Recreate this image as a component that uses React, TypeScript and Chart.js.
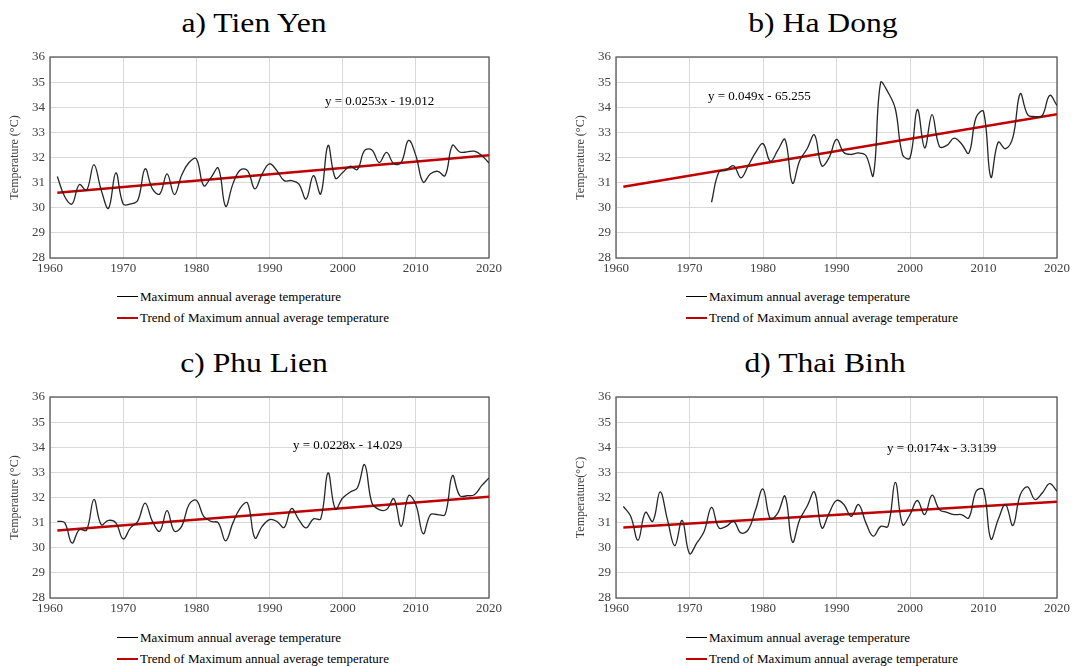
import React, { useEffect, useRef } from 'react';
import { Chart, registerables } from 'chart.js';

Chart.register(...registerables);

const years = [
  1961, 1962, 1963, 1964, 1965, 1966, 1967, 1968, 1969, 1970,
  1971, 1972, 1973, 1974, 1975, 1976, 1977, 1978, 1979, 1980,
  1981, 1982, 1983, 1984, 1985, 1986, 1987, 1988, 1989, 1990,
  1991, 1992, 1993, 1994, 1995, 1996, 1997, 1998, 1999, 2000,
  2001, 2002, 2003, 2004, 2005, 2006, 2007, 2008, 2009, 2010,
  2011, 2012, 2013, 2014, 2015, 2016, 2017, 2018, 2019, 2020,
];

const xTicks = [1960, 1970, 1980, 1990, 2000, 2010, 2020];
const yTicks = [28, 29, 30, 31, 32, 33, 34, 35, 36];

const tienYen = [
  31.24, 30.45, 30.15, 30.92, 30.7, 31.72, 30.7, 29.98, 31.39, 30.15,
  30.15, 30.3, 31.55, 30.75, 30.55, 31.35, 30.52, 31.3, 31.8, 31.95,
  30.88, 31.2, 31.58, 30.06, 30.95, 31.5, 31.48, 30.75, 31.35, 31.75,
  31.48, 31.08, 31.08, 30.95, 30.35, 31.28, 30.55, 32.48, 31.18, 31.4,
  31.65, 31.52, 32.28, 32.3, 31.8, 32.2, 31.75, 31.8, 32.68, 32.08,
  31.02, 31.35, 31.45, 31.28, 32.48, 32.22, 32.22, 32.25, 32.08, 31.78,
];

const haDong = [
  null, null, null, null, null, null, null, null, null, null,
  null, null, 30.22, 31.42, 31.5, 31.67, 31.19, 31.68, 32.2, 32.55,
  31.85, 32.28, 32.72, 30.98, 31.88, 32.35, 32.9, 31.67, 32.0, 32.72,
  32.2, 32.12, 32.18, 32.08, 31.28, 34.98, 34.6, 33.94, 32.1, 31.98,
  33.91, 32.38, 33.71, 32.44, 32.48, 32.77, 32.55, 32.17, 33.6, 33.83,
  31.22, 32.61, 32.35, 32.8, 34.54, 33.71, 33.63, 33.67, 34.47, 34.07,
];

const phuLien = [
  31.05, 31.0, 30.19, 30.72, 30.7, 31.92, 30.92, 31.09, 30.99, 30.35,
  30.79, 31.05, 31.78, 31.05, 30.66, 31.48, 30.66, 30.85, 31.72, 31.89,
  31.25, 31.05, 30.99, 30.27, 30.99, 31.58, 31.78, 30.39, 30.85, 31.12,
  31.05, 30.81, 31.56, 31.12, 30.79, 31.15, 31.15, 32.98, 31.54, 31.98,
  32.21, 32.38, 33.31, 31.78, 31.52, 31.52, 31.95, 30.85, 32.07, 31.72,
  30.56, 31.32, 31.32, 31.32, 32.87, 32.07, 32.07, 32.11, 32.47, 32.78,
];

const thaiBinh = [
  31.65, 31.25, 30.3, 31.41, 31.05, 32.22, 31.12, 30.08, 31.09, 29.77,
  30.19, 30.66, 31.61, 30.79, 30.85, 31.05, 30.59, 30.72, 31.52, 32.34,
  31.15, 31.38, 32.05, 30.23, 31.12, 31.65, 32.22, 30.79, 31.38, 31.88,
  31.72, 31.25, 31.72, 30.99, 30.46, 30.85, 30.85, 32.6, 30.92, 31.32,
  31.88, 31.32, 32.09, 31.52, 31.41, 31.32, 31.32, 31.19, 32.25, 32.31,
  30.35, 31.12, 31.72, 30.89, 32.11, 32.42, 31.92, 32.18, 32.55, 32.25,
];

const trendSlopes = [0.0253, 0.049, 0.0228, 0.0174];
const trendIntercepts = [-19.012, -65.255, -14.029, -3.3139];
const equations = [
  'y = 0.0253x - 19.012',
  'y = 0.049x - 65.255',
  'y = 0.0228x - 14.029',
  'y = 0.0174x - 3.3139',
];
const titles = ['a) Tien Yen', 'b) Ha Dong', 'c) Phu Lien', 'd) Thai Binh'];
const yTitles = ['Temperature (°C)', 'Temperature (°C)', 'Temperature (°C)', 'Temperature(°C)'];
const seriesList = [tienYen, haDong, phuLien, thaiBinh];
const legendLabels = [
  'Maximum annual average temperature',
  'Trend of Maximum annual average temperature',
];

const FONT = '"Liberation Serif", "Times New Roman", serif';

const CANVAS_W = 520;
const CANVAS_H = 230;

// layout (pixels) for each panel
const layouts = [
  { left: 0, top: 50, padRight: 31, titleX: 254, titleTop: 5, legendX: 117, legendY: 286, eqX: 325, eqY: 102 },
  { left: 566, top: 50, padRight: 29, titleX: 823, titleTop: 5, legendX: 686, legendY: 286, eqX: 708, eqY: 97 },
  { left: 0, top: 390, padRight: 31, titleX: 254, titleTop: 345, legendX: 117, legendY: 627, eqX: 293, eqY: 446 },
  { left: 566, top: 390, padRight: 29, titleX: 825, titleTop: 345, legendX: 686, legendY: 627, eqX: 887, eqY: 449 },
];

function Panel({ idx }: { idx: number }) {
  const ref = useRef<HTMLCanvasElement | null>(null);
  const lay = layouts[idx];

  useEffect(() => {
    if (!ref.current) return;
    const series = seriesList[idx];
    const slope = trendSlopes[idx];
    const icpt = trendIntercepts[idx];
    const firstYear = years[0];
    const lastYear = years[years.length - 1];
    const points = years.map((yr, i) => ({ x: yr, y: series[i] }));
    const trend = [
      { x: firstYear, y: slope * firstYear + icpt },
      { x: lastYear, y: slope * lastYear + icpt },
    ];

    const framePlugin = {
      id: 'frame',
      beforeDatasetsDraw(chart: any) {
        const { ctx, chartArea } = chart;
        ctx.save();
        ctx.strokeStyle = '#595959';
        ctx.lineWidth = 1.3;
        ctx.strokeRect(chartArea.left, chartArea.top, chartArea.right - chartArea.left, chartArea.bottom - chartArea.top);
        ctx.restore();
      },
    };

    const eqPlugin = {
      id: 'eq',
      afterDatasetsDraw(chart: any) {
        const { ctx } = chart;
        ctx.save();
        ctx.font = `13px ${FONT}`;
        ctx.fillStyle = '#000';
        ctx.textBaseline = 'middle';
        ctx.textAlign = 'left';
        ctx.fillText(equations[idx], lay.eqX - lay.left, lay.eqY - lay.top);
        ctx.restore();
      },
    };

    const tickFont = { family: FONT, size: 13 };

    const chart = new Chart(ref.current, {
      type: 'line',
      data: {
        datasets: [
          {
            label: legendLabels[0],
            data: points as any,
            borderColor: '#262626',
            borderWidth: 1.3,
            pointRadius: 0,
            tension: 0.4,
            fill: false,
          },
          {
            label: legendLabels[1],
            data: trend as any,
            borderColor: '#c00000',
            borderWidth: 2.5,
            pointRadius: 0,
            tension: 0,
            fill: false,
          },
        ],
      },
      options: {
        animation: false,
        responsive: false,
        maintainAspectRatio: false,
        layout: { padding: { top: 7, right: lay.padRight, left: 0, bottom: 0 } },
        plugins: {
          legend: { display: false },
          tooltip: { enabled: false },
        },
        scales: {
          x: {
            type: 'linear',
            min: xTicks[0],
            max: xTicks[xTicks.length - 1],
            afterBuildTicks: (s: any) => {
              s.ticks = xTicks.map((v) => ({ value: v }));
            },
            ticks: {
              color: '#404040',
              font: tickFont,
              padding: 3,
              maxRotation: 0,
              callback: (v: any) => String(v),
            },
            grid: { color: '#d9d9d9', drawTicks: false, lineWidth: 1 },
            border: { display: false },
            afterFit: (s: any) => {
              s.height = 22;
              s.paddingLeft = 0;
              s.paddingRight = 0;
            },
          },
          y: {
            type: 'linear',
            min: yTicks[0],
            max: yTicks[yTicks.length - 1],
            afterBuildTicks: (s: any) => {
              s.ticks = yTicks.map((v) => ({ value: v }));
            },
            ticks: {
              color: '#404040',
              font: tickFont,
              padding: 5,
              callback: (v: any) => String(v),
            },
            grid: { color: '#d9d9d9', drawTicks: false, lineWidth: 1 },
            border: { display: false },
            title: {
              display: true,
              text: yTitles[idx],
              color: '#404040',
              font: { family: FONT, size: 12 },
              padding: { top: 8, bottom: 0 },
            },
            afterFit: (s: any) => {
              s.width = 50;
              s.paddingTop = 0;
              s.paddingBottom = 0;
            },
          },
        },
      },
      plugins: [framePlugin, eqPlugin],
    });
    return () => chart.destroy();
  }, [idx]);

  return (
    <>
      <div
        style={{
          position: 'absolute',
          left: lay.titleX - 150,
          top: lay.titleTop,
          width: 300,
          textAlign: 'center',
          fontSize: 28,
          lineHeight: '36px',
          color: '#000',
          fontFamily: FONT,
          whiteSpace: 'nowrap',
          transform: 'scaleX(1.13)',
        }}
      >
        {titles[idx]}
      </div>
      <canvas
        ref={ref}
        width={CANVAS_W}
        height={CANVAS_H}
        style={{ position: 'absolute', left: lay.left, top: lay.top, width: CANVAS_W, height: CANVAS_H }}
      />
      <div
        style={{
          position: 'absolute',
          left: lay.legendX,
          top: lay.legendY,
          fontFamily: FONT,
          fontSize: 13,
          color: '#000',
          lineHeight: '21px',
          whiteSpace: 'nowrap',
        }}
      >
        <div style={{ display: 'flex', alignItems: 'center' }}>
          <span style={{ display: 'inline-block', width: 21, height: 0, borderTop: '1.3px solid #000', marginRight: 2 }} />
          <span>{legendLabels[0]}</span>
        </div>
        <div style={{ display: 'flex', alignItems: 'center' }}>
          <span style={{ display: 'inline-block', width: 21, height: 0, borderTop: '2.5px solid #c00000', marginRight: 2 }} />
          <span>{legendLabels[1]}</span>
        </div>
      </div>
    </>
  );
}

export default function App() {
  return (
    <div
      style={{
        position: 'absolute',
        left: 0,
        top: 0,
        width: 1083,
        height: 667,
        background: '#fff',
        overflow: 'hidden',
      }}
    >
      {[0, 1, 2, 3].map((i) => (
        <Panel key={i} idx={i} />
      ))}
    </div>
  );
}
